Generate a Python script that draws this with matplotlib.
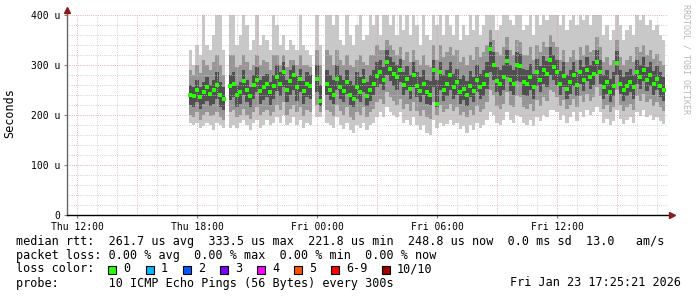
import numpy as np
import matplotlib
matplotlib.use("Agg")
import matplotlib.pyplot as plt
from matplotlib.patches import Rectangle

N = None
# time axis: hours since Thu 12:00, 10-minute bins starting Thu 17:40
start_h = 5 + 40 / 60
step_h = 1 / 6

median = [240,238,250,235,245,255,242,250,260,240,232,
          N,
          258,262,240,245,268,250,238,260,270,248,255,262,245,258,275,262,285,250,268,280,255,272,248,262,258,
          N,
          272,228,
          N,
          262,250,240,272,255,248,265,240,232,255,245,268,238,250,262,278,285,270,305,292,282,275,290,260,272,252,280,258,248,262,245,240,
          290,222,285,250,262,280,255,265,245,252,240,258,248,270,255,262,280,332,300,268,262,275,308,270,262,300,298,265,262,275,255,285,270,290,282,310,
          295,285,262,278,252,265,280,260,285,270,290,275,282,305,285,255,265,245,258,303,262,250,258,265,255,285,275,290,270,280,262,272,258,250]

hi_outer = [330,300,340,320,400,340,330,360,400,400,330,
            N,
            400,400,340,360,400,380,330,350,400,340,360,350,330,400,380,340,360,330,350,340,330,400,340,330,320,
            N,
            400,340,
            N,
            400,400,380,400,350,340,400,360,340,380,400,350,360,400,380,400,360,400,400,380,400,360,400,370,400,360,400,380,340,400,360,350,
            400,380,400,360,400,380,360,400,350,380,360,400,370,400,360,380,400,400,400,370,380,400,400,390,380,400,400,370,380,400,360,400,380,400,390,400,
            400,400,380,400,370,390,400,380,400,390,400,380,400,400,400,360,380,350,370,400,380,350,370,380,360,400,390,400,380,390,370,380,360,350]

hi_mid = [290,280,300,285,310,300,290,305,320,300,280,
          N,
          320,320,295,300,320,305,290,300,320,300,310,305,290,320,320,300,320,295,310,310,300,320,300,300,295,
          N,
          330,300,
          N,
          330,320,300,330,310,300,320,300,295,310,320,305,300,320,320,340,330,330,350,340,330,320,335,310,325,305,330,310,300,320,300,295,
          340,310,340,315,325,335,320,330,305,315,300,320,310,335,315,325,340,370,350,325,320,335,355,330,320,350,345,320,320,335,310,340,325,345,335,360,
          345,335,310,330,305,315,330,310,335,320,340,325,330,355,335,305,315,300,310,350,315,300,310,318,305,335,325,340,320,330,312,322,308,300]

hi_inner = [260,255,270,255,265,275,260,270,285,265,255,
            N,
            280,285,260,265,290,270,255,280,295,270,278,282,265,280,300,285,305,270,290,300,278,292,268,285,280,
            N,
            300,260,
            N,
            290,280,270,300,280,270,290,268,260,285,275,292,265,280,290,305,310,295,330,315,305,300,312,285,298,280,305,285,275,290,270,268,
            310,270,305,280,290,305,282,292,272,280,268,288,275,300,282,290,305,345,325,295,290,300,330,300,290,325,322,292,290,302,282,312,298,318,308,335,
            320,310,288,305,280,290,305,285,310,295,315,300,308,330,310,280,290,272,285,328,290,275,285,292,280,310,300,315,295,305,288,298,285,275]

lo_inner = [220,215,225,212,222,228,218,222,232,215,210,
            N,
            230,235,215,222,240,225,215,232,245,222,230,235,220,232,248,238,255,225,240,250,228,245,222,235,232,
            N,
            245,218,
            N,
            240,230,222,250,232,225,242,220,215,232,225,245,218,228,240,255,262,250,280,268,258,250,265,240,250,232,255,235,225,240,222,220,
            255,215,250,228,238,250,232,240,222,230,218,235,225,245,232,238,252,285,270,245,238,250,275,248,240,268,265,240,238,250,232,258,245,262,255,280,
            270,260,240,255,232,242,258,238,262,248,268,252,260,282,262,232,242,225,238,280,242,228,238,245,232,262,252,268,248,258,240,250,236,228]

lo_mid = [200,195,205,190,200,205,198,200,205,195,190,
          N,
          205,210,195,200,212,200,192,205,215,200,205,210,198,205,220,210,225,200,212,220,205,215,198,210,205,
          N,
          220,205,
          N,
          210,205,198,220,208,200,215,195,190,205,200,215,195,205,212,225,232,222,245,235,228,220,232,212,222,208,225,208,198,210,195,192,
          225,200,220,205,212,222,208,215,200,205,195,210,200,218,205,212,225,250,240,218,212,222,245,220,215,238,235,215,212,222,208,230,218,235,228,250,
          245,235,218,230,212,220,232,215,238,225,242,228,235,255,238,212,220,205,215,250,220,208,215,222,210,238,228,242,225,232,218,226,215,208]

lo_outer = [185,180,185,175,178,185,180,170,185,180,175,
            N,
            175,180,175,185,190,180,170,185,190,175,180,190,180,185,195,185,200,180,185,195,180,190,175,185,180,
            N,
            195,195,
            N,
            185,180,175,195,180,172,185,170,165,180,175,185,170,180,185,195,205,195,215,205,200,195,205,185,190,180,195,180,170,180,165,160,
            190,175,185,178,182,190,180,185,172,178,165,180,170,185,175,180,190,205,200,185,180,190,205,190,185,200,195,185,180,190,178,195,188,200,195,210,
            210,205,190,200,185,195,205,188,205,195,210,200,205,215,205,185,192,180,188,210,192,182,190,195,185,205,198,210,195,200,190,196,188,182]

x_tick_pos = [0, 6, 12, 18, 24]
x_tick_labels = ["Thu 12:00", "Thu 18:00", "Fri 00:00", "Fri 06:00", "Fri 12:00"]
y_tick_pos = [0, 100, 200, 300, 400]
y_tick_labels = ["0", "100 u", "200 u", "300 u", "400 u"]

loss_colors = ["#26ff00", "#00b8ff", "#0059ff", "#7e00ff", "#ff00ff", "#ff5500", "#ff0000", "#a10000"]
loss_labels = ["0", "1", "2", "3", "4", "5", "6-9", "10/10"]
loss_xpix = [108, 146, 183, 220, 257, 294, 331, 382]

MONO = "DejaVu Sans Mono"
W, H = 697, 297

fig = plt.figure(figsize=(W / 100, H / 100), dpi=100)
ax = fig.add_axes([67 / W, 82 / H, 601 / W, 200 / H])
ax.set_xlim(-0.5, 29.55)
ax.set_ylim(0, 400)

x = start_h + step_h * np.arange(len(median))
layers = [(lo_outer, hi_outer, "#c8c8c8"), (lo_mid, hi_mid, "#969696"), (lo_inner, hi_inner, "#505050")]
for z, (lo, hi, c) in enumerate(layers):
    lo = np.array(lo, dtype=float)
    hi = np.array(hi, dtype=float)
    ax.bar(x, hi - lo, bottom=lo, width=step_h, color=c, linewidth=0, zorder=1 + z)

med = np.array(median, dtype=float)
ok = ~np.isnan(med)
ax.plot(x[ok], med[ok], linestyle="none", marker="s", ms=2.4, mew=0, color="#26ff00", zorder=6)

# grid (drawn above the smoke like rrdtool)
for h in range(0, 30):
    major = h % 3 == 0
    ax.axvline(h, color="#dd9c9c" if major else "#c4c4c4", lw=0.6, ls=(0, (1, 1.6)), zorder=4)
for v in range(20, 401, 20):
    major = v % 100 == 0
    ax.axhline(v, color="#dd9c9c" if major else "#c4c4c4", lw=0.6, ls=(0, (1, 1.6)), zorder=4)

for s in ax.spines.values():
    s.set_visible(False)
ax.plot([-0.5, -0.5], [0, 406], color="#666666", lw=1, clip_on=False, zorder=7)
ax.plot([-0.5, 29.7], [0, 0], color="#000000", lw=1, clip_on=False, zorder=7)
ax.plot([-0.5], [410], marker="^", color="#8b1a1a", ms=4, clip_on=False, zorder=8)
ax.plot([29.75], [0], marker=">", color="#8b1a1a", ms=4, clip_on=False, zorder=8)

ax.set_xticks(x_tick_pos, x_tick_labels)
ax.set_yticks(y_tick_pos, y_tick_labels)
ax.tick_params(axis="both", length=2, width=0.8, color="#888888", labelsize=7, pad=3)
for lab in ax.get_xticklabels() + ax.get_yticklabels():
    lab.set_family(MONO)


def ftext(xp, yp, s, **kw):
    kw.setdefault("family", MONO)
    kw.setdefault("size", 8.5)
    kw.setdefault("va", "center")
    fig.text(xp / W, 1 - yp / H, s, **kw)


ftext(10, 113, "Seconds", rotation=90, ha="center")
ftext(686, 4, "RRDTOOL / TOBI OETIKER", rotation=270, ha="center", va="top", size=6, color="#b8b8b8")

ftext(16, 241, "median rtt:  261.7 us avg  333.5 us max  221.8 us min  248.8 us now  0.0 ms sd  13.0   am/s")
ftext(16, 255, "packet loss: 0.00 % avg  0.00 % max  0.00 % min  0.00 % now")
ftext(16, 269, "loss color:")
for xp, c, lab in zip(loss_xpix, loss_colors, loss_labels):
    fig.add_artist(Rectangle((xp / W, 1 - 273.5 / H), 8 / W, 8 / H, transform=fig.transFigure,
                             facecolor=c, edgecolor="black", lw=0.8))
    ftext(xp + 15, 269, lab)
ftext(16, 283, "probe:       10 ICMP Echo Pings (56 Bytes) every 300s")
ftext(681, 283, "Fri Jan 23 17:25:21 2026", ha="right")

fig.savefig("out.png", dpi=100)
